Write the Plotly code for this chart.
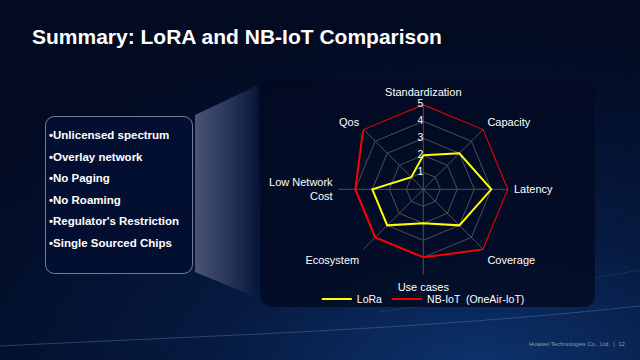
import base64
import plotly.graph_objects as go

categories = ["Standardization", "Capacity", "Latency", "Coverage", "Use cases",
              "Ecosystem", "Low Network<br>Cost", "Qos"]
lora_values = [2, 3, 4, 3, 2, 3, 3, 1]
nbiot_values = [5, 5, 5, 5, 4, 4, 4, 5]
series_names = ["LoRa", "NB-IoT  (OneAir-IoT)"]
radial_ticks = [0, 1, 2, 3, 4, 5]
bullets = ["Unlicensed spectrum", "Overlay network", "No Paging", "No Roaming",
           "Regulator's Restriction", "Single Sourced Chips"]
title_text = "Summary: LoRA and NB-IoT Comparison"
footer_text = "Huawei Technologies Co., Ltd.  |  12"

W, H = 640, 360

svg = f'''<svg xmlns="http://www.w3.org/2000/svg" width="{W}" height="{H}" viewBox="0 0 {W} {H}">
<defs>
<radialGradient id="bg" cx="0.75" cy="1.05" r="0.95">
<stop offset="0" stop-color="#0d3470"/>
<stop offset="0.45" stop-color="#061a40"/>
<stop offset="1" stop-color="#020b22"/>
</radialGradient>
<linearGradient id="trap" x1="0" y1="0" x2="1" y2="0">
<stop offset="0" stop-color="#4a5370"/>
<stop offset="0.55" stop-color="#27355a"/>
<stop offset="1" stop-color="#071638"/>
</linearGradient>
</defs>
<rect x="0" y="0" width="{W}" height="{H}" fill="url(#bg)"/>
<path d="M0,346 C200,336 420,330 640,306" stroke="#5a7cae" stroke-opacity="0.55" stroke-width="0.8" fill="none"/>
<path d="M380,312 C460,300 540,288 640,270" stroke="#5a7cae" stroke-opacity="0.25" stroke-width="0.8" fill="none"/>
<polygon points="195,115 258,85 258,298 195,272" fill="url(#trap)"/>
<rect x="260" y="79" width="335" height="228" rx="12" ry="12" fill="#020a22" fill-opacity="0.85"/>
<rect x="45.5" y="116.5" width="147" height="157" rx="9" ry="9" fill="#030f30" stroke="#8a9ab8" stroke-width="0.8"/>
</svg>'''
svg_uri = "data:image/svg+xml;base64," + base64.b64encode(svg.encode()).decode()

fig = go.Figure()
colors = ["#ffff00", "#ff0000"]
for name, vals, col in zip(series_names, [lora_values, nbiot_values], colors):
    fig.add_trace(go.Scatterpolar(
        r=vals + vals[:1], theta=categories + categories[:1], mode="lines",
        name=name, line=dict(color=col, width=2), hoverinfo="skip"))

# radial tick labels, drawn upright along the first axis
fig.add_trace(go.Scatterpolar(
    r=radial_ticks, theta=[categories[0]] * len(radial_ticks), mode="text",
    text=[str(t) for t in radial_ticks], textposition="middle left",
    textfont=dict(family="Liberation Sans, Arial", size=10.5, color="#ffffff"),
    showlegend=False, hoverinfo="skip"))

cx, cy, rad = 423.3, 189.3, 85.0
fig.update_layout(
    width=W, height=H, margin=dict(l=0, r=0, t=0, b=0),
    paper_bgcolor="#020b22", plot_bgcolor="rgba(0,0,0,0)",
    images=[dict(source=svg_uri, xref="paper", yref="paper", x=0, y=1,
                 sizex=1, sizey=1, xanchor="left", yanchor="top",
                 sizing="stretch", layer="below")],
    polar=dict(
        domain=dict(x=[(cx - rad) / W, (cx + rad) / W],
                    y=[(H - cy - rad) / H, (H - cy + rad) / H]),
        bgcolor="rgba(0,0,0,0)",
        gridshape="linear",
        radialaxis=dict(range=[0, 5], tickvals=radial_ticks, angle=90,
                        showticklabels=False, showline=False,
                        gridcolor="#4a4f5c", gridwidth=0.8, ticks=""),
        angularaxis=dict(rotation=90, direction="clockwise", showline=False,
                         gridcolor="#4a4f5c", gridwidth=0.8,
                         ticks="outside", ticklen=3, tickcolor="rgba(0,0,0,0)",
                         tickfont=dict(family="Liberation Sans, Arial", size=11, color="#ffffff")),
    ),
    showlegend=True,
    legend=dict(orientation="h", x=cx / W, xanchor="center", y=(H - 299) / H,
                yanchor="middle", bgcolor="rgba(0,0,0,0)", itemwidth=30,
                font=dict(family="Liberation Sans, Arial", size=10.5, color="#ffffff"),
                tracegroupgap=0),
)

annotations = [dict(text=f"<b>{title_text}</b>", x=30 / W, y=(H - 37) / H,
                    xref="paper", yref="paper", xanchor="left", yanchor="middle",
                    showarrow=False,
                    font=dict(family="Liberation Sans, Arial", size=21, color="#ffffff"))]
for i, b in enumerate(bullets):
    annotations.append(dict(text=f"<b>\u2022{b}</b>", x=47 / W, y=(H - (135 + 21.6 * i)) / H,
                            xref="paper", yref="paper", xanchor="left", yanchor="middle",
                            showarrow=False,
                            font=dict(family="Liberation Sans, Arial", size=11.5, color="#ffffff")))
annotations.append(dict(text=footer_text, x=628 / W, y=(H - 344) / H, xref="paper", yref="paper",
                        xanchor="right", yanchor="middle", showarrow=False,
                        font=dict(family="Liberation Sans, Arial", size=6, color="#8a9ab8")))
fig.update_layout(annotations=annotations)

fig.write_html("out.html")
